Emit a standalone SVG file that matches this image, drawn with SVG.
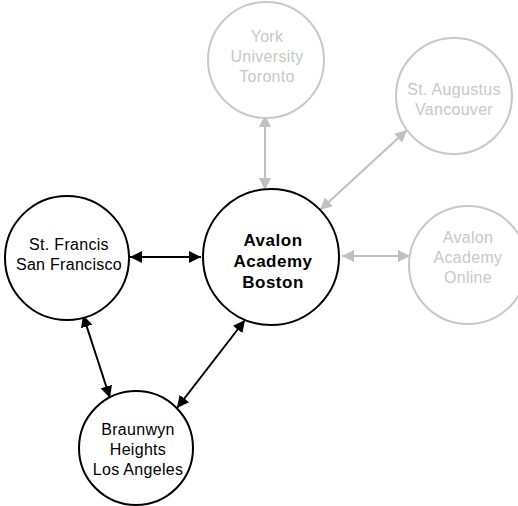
<svg xmlns="http://www.w3.org/2000/svg" width="518" height="506" viewBox="0 0 518 506">
<style>
.bg{fill:#fff}
.n{fill:#fff;stroke:#000;stroke-width:2}
.g{fill:#fff;stroke:#c8c8c8;stroke-width:2}
.t{font-family:"Liberation Sans",Arial,sans-serif;font-size:16px;letter-spacing:0.3px;fill:#000;text-anchor:middle}
.tg{font-family:"Liberation Sans",Arial,sans-serif;font-size:16px;letter-spacing:0.3px;fill:#c8c8c8;text-anchor:middle}
.tb{font-family:"Liberation Sans",Arial,sans-serif;font-size:17px;letter-spacing:0.5px;font-weight:bold;fill:#000;text-anchor:middle}
.e{stroke:#000;stroke-width:2;fill:none;marker-start:url(#ab);marker-end:url(#ab)}
.eg{stroke:#c0c0c0;stroke-width:2;fill:none;marker-start:url(#ag);marker-end:url(#ag)}
</style>
<defs>
<marker id="ab" viewBox="0 0 10 10" refX="10" refY="5" markerWidth="6" markerHeight="6" orient="auto-start-reverse" markerUnits="strokeWidth"><path d="M0,0 L10,5 L0,10 z" fill="#000"/></marker>
<marker id="ag" viewBox="0 0 10 10" refX="10" refY="5" markerWidth="6" markerHeight="6" orient="auto-start-reverse" markerUnits="strokeWidth"><path d="M0,0 L10,5 L0,10 z" fill="#c0c0c0"/></marker>
</defs>
<rect class="bg" x="0" y="0" width="518" height="506"/>
<g id="connectors">
<line class="e" x1="130" y1="257" x2="201" y2="257"/>
<line class="e" x1="83" y1="315" x2="110" y2="398"/>
<line class="e" x1="245" y1="320" x2="177" y2="408"/>
<line class="eg" x1="265" y1="115" x2="265" y2="190"/>
<line class="eg" x1="407" y1="130" x2="320" y2="210"/>
<line class="eg" x1="342" y1="256" x2="410" y2="256"/>
</g>
<g id="york">
<circle class="g" cx="266" cy="60" r="58"/>
<text class="tg" x="267" y="42">York</text>
<text class="tg" x="267" y="62">University</text>
<text class="tg" x="267" y="82">Toronto</text>
</g>
<g id="augustus">
<circle class="g" cx="454" cy="96" r="58"/>
<text class="tg" x="454" y="95">St. Augustus</text>
<text class="tg" x="454" y="115">Vancouver</text>
</g>
<g id="online">
<circle class="g" cx="468" cy="265" r="59"/>
<text class="tg" x="468" y="243">Avalon</text>
<text class="tg" x="468" y="263">Academy</text>
<text class="tg" x="468" y="283">Online</text>
</g>
<g id="boston">
<circle class="n" cx="271" cy="257" r="68"/>
<text class="tb" x="273" y="246">Avalon</text>
<text class="tb" x="273" y="267">Academy</text>
<text class="tb" x="273" y="288">Boston</text>
</g>
<g id="francis">
<circle class="n" cx="67" cy="258" r="62"/>
<text class="t" x="69" y="250">St. Francis</text>
<text class="t" x="69" y="270">San Francisco</text>
</g>
<g id="braunwyn">
<circle class="n" cx="136" cy="448" r="57"/>
<text class="t" x="138" y="435">Braunwyn</text>
<text class="t" x="138" y="455">Heights</text>
<text class="t" x="138" y="475">Los Angeles</text>
</g>
</svg>
